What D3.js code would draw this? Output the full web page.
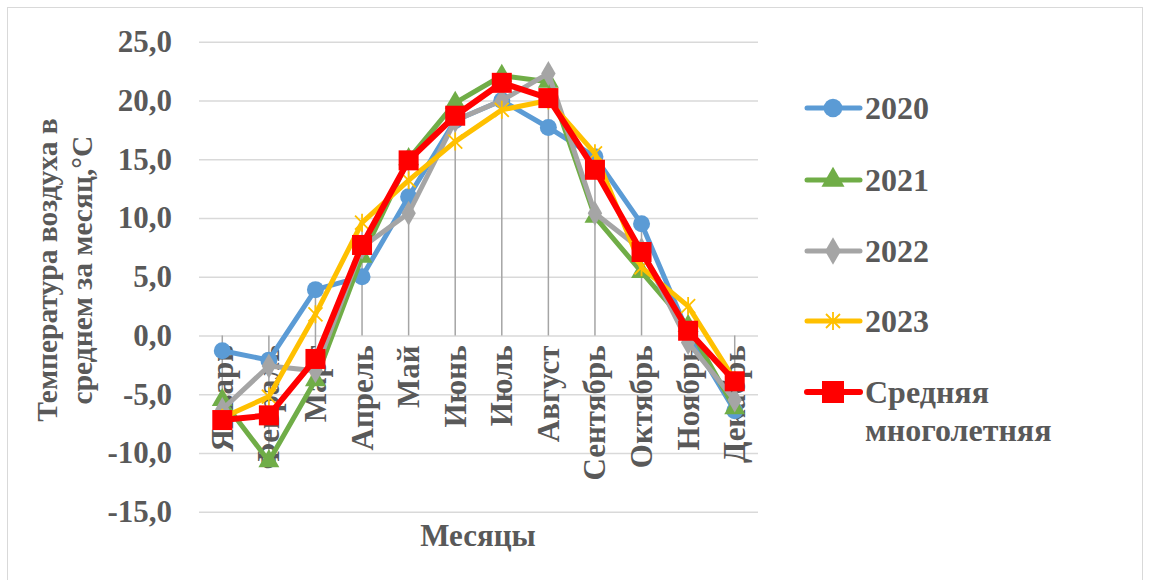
<!DOCTYPE html>
<html><head><meta charset="utf-8">
<script src="https://cdn.jsdelivr.net/npm/d3@7"></script>
<style>body{margin:0;background:#fff}svg{display:block}text{font-family:"Liberation Serif","Times New Roman",serif;font-weight:bold;fill:#595959}</style>
</head><body>
<script>
const months = ["Январь","Февраль","Март","Апрель","Май","Июнь","Июль","Август","Сентябрь","Октябрь","Ноябрь","Декабрь"];
const s2020 = [-1.3,-2.1,3.9,5.0,11.8,18.3,20.0,17.7,15.2,9.5,0.2,-6.4];
const s2021 = [-5.5,-10.7,-3.8,6.7,15.0,19.8,22.1,21.6,10.1,5.4,0.8,-6.2];
const s2022 = [-6.3,-2.6,-3.0,7.5,10.4,18.3,20.0,22.3,10.4,7.3,-0.6,-5.5];
const s2023 = [-7.0,-5.2,1.8,9.6,13.2,16.5,19.2,20.0,15.5,5.8,2.5,-3.8];
const sMean = [-7.2,-6.8,-2.0,7.7,14.9,18.7,21.5,20.2,14.1,7.1,0.4,-3.9];
const seriesNames = ["2020","2021","2022","2023","Средняя многолетняя"];
const yTicks = [-15,-10,-5,0,5,10,15,20,25];
const yTitle = ["Температура воздуха в","среднем за месяц,°С"];
const xTitle = "Месяцы";

const W=1150,H=580;
const svg=d3.select("body").append("svg").attr("width",W).attr("height",H);
svg.append("rect").attr("x",7.5).attr("y",7.5).attr("width",1135).attr("height",580).attr("fill","none").attr("stroke","#d9d9d9").attr("stroke-width",1);

const x=d3.scaleBand().domain(months).range([199,758]);
const cx=m=>x(m)+x.bandwidth()/2;
const y=d3.scaleLinear().domain([-15,25]).range([511.7,41.7]);
const fmt=d3.formatLocale({decimal:",",thousands:" ",grouping:[3],currency:["",""],minus:"-"}).format(".1f");

const series=[
 {name:seriesNames[0],vals:s2020,color:"#5B9BD5",marker:"circle",lw:5},
 {name:seriesNames[1],vals:s2021,color:"#70AD47",marker:"triangle",lw:5},
 {name:seriesNames[2],vals:s2022,color:"#A5A5A5",marker:"diamond",lw:5},
 {name:seriesNames[3],vals:s2023,color:"#FFC000",marker:"star",lw:5},
 {name:seriesNames[4],vals:sMean,color:"#FF0000",marker:"square",lw:6}
];

// gridlines + y labels
const ya=d3.axisLeft(y).tickValues(yTicks).tickSize(-559).tickPadding(27).tickFormat(fmt);
const gy=svg.append("g").attr("transform","translate(199,0)").call(ya);
gy.select(".domain").remove();
gy.selectAll(".tick line").attr("stroke","#d9d9d9").attr("stroke-width",1.5);
gy.selectAll(".tick text").attr("font-size",31).attr("font-family",null).attr("fill","#595959");

// drop lines
const dl=svg.append("g");
months.forEach((m,i)=>{
  const vals=series.map(s=>s.vals[i]);
  const lo=Math.min(0,d3.min(vals)),hi=Math.max(0,d3.max(vals));
  dl.append("line").attr("x1",cx(m)).attr("x2",cx(m)).attr("y1",y(hi)).attr("y2",y(lo)).attr("stroke","#A5A5A5").attr("stroke-width",1.5);
});

// category labels
svg.append("g").selectAll("text").data(months).join("text")
 .attr("transform",m=>`translate(${cx(m)},${y(0)+10}) rotate(-90)`)
 .attr("text-anchor","end").attr("dominant-baseline","central").attr("font-size",31).text(d=>d);

function marker(g,type,color,sc=1){
  if(type==="circle") g.append("circle").attr("r",8.5*sc).attr("fill",color);
  else if(type==="triangle") g.append("path").attr("d",d3.symbol(d3.symbolTriangle,190*sc*sc)()).attr("fill",color);
  else if(type==="diamond") g.append("path").attr("d",d3.symbol(d3.symbolDiamond,180*sc*sc)()).attr("fill",color);
  else if(type==="square") g.append("rect").attr("x",-10*sc).attr("y",-10*sc).attr("width",20*sc).attr("height",20*sc).attr("fill",color);
  else if(type==="star") g.append("path").attr("d","M-7,-7L7,7M-7,7L7,-7M0,-9L0,9").attr("stroke",color).attr("stroke-width",1.8).attr("fill","none");
}

const line=d3.line().x((d,i)=>cx(months[i])).y(d=>y(d));
series.forEach(s=>{
  const g=svg.append("g");
  g.append("path").attr("d",line(s.vals)).attr("fill","none").attr("stroke",s.color).attr("stroke-width",s.lw).attr("stroke-linejoin","round").attr("stroke-linecap","round");
  s.vals.forEach((v,i)=>{marker(g.append("g").attr("transform",`translate(${cx(months[i])},${y(v)})`),s.marker,s.color);});
});

// axis titles
svg.append("text").attr("x",478).attr("y",535).attr("text-anchor","middle").attr("dominant-baseline","central").attr("font-size",31).text(xTitle);
[47,82].forEach((xx,i)=>{
  svg.append("text").attr("transform",`translate(${xx},270) rotate(-90)`).attr("text-anchor","middle").attr("dominant-baseline","central").attr("font-size",29.5).text(yTitle[i]);
});

// legend
const legY=[108,180,251,321,392];
series.forEach((s,i)=>{
  const g=svg.append("g").attr("transform",`translate(0,${legY[i]})`);
  g.append("line").attr("x1",807).attr("x2",860).attr("stroke",s.color).attr("stroke-width",s.lw).attr("stroke-linecap","round");
  marker(g.append("g").attr("transform","translate(833,0)"),s.marker,s.color,1.1);
  const t=g.append("text").attr("x",865).attr("font-size",32).attr("dominant-baseline","central");
  if(i<4) t.text(s.name);
  else { const p=s.name.split(" "); t.append("tspan").attr("x",865).attr("dy",0).text(p[0]); t.append("tspan").attr("x",865).attr("dy","1.2em").text(p[1]); }
});
</script>
</body></html>
